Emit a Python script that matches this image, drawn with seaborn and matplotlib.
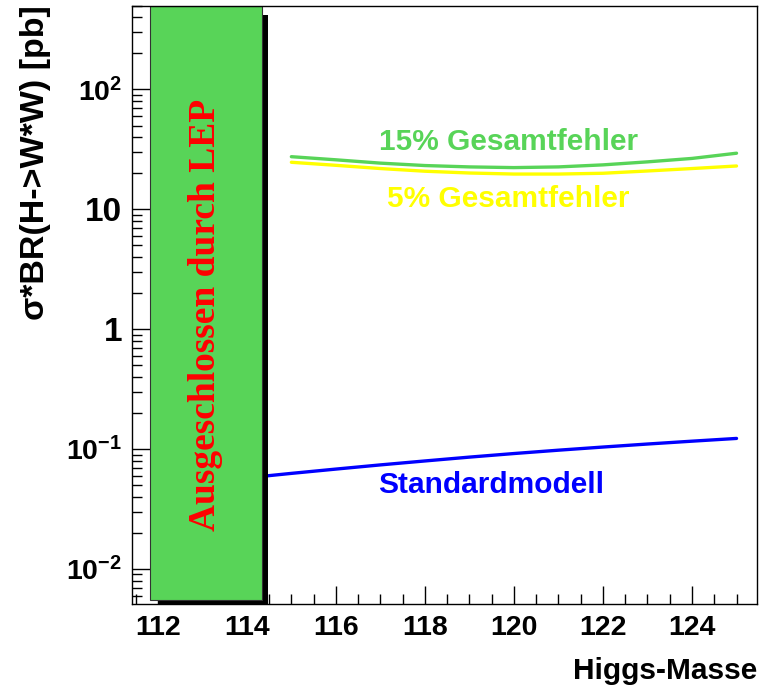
import matplotlib
matplotlib.use('Agg')
import matplotlib.pyplot as plt
import matplotlib.ticker as mticker
from matplotlib.patches import Rectangle
import seaborn as sns
import pandas as pd
import numpy as np

# Higgs mass points and cross sections
mass_sm = [114, 115, 116, 117, 118, 119, 120, 121, 122, 123, 124, 125]
sigma_sm = [0.0575, 0.0627, 0.0681, 0.0738, 0.0796, 0.0857, 0.0918,
            0.0979, 0.1040, 0.1102, 0.1164, 0.1227]

mass_err = [115, 116, 117, 118, 119, 120, 121, 122, 123, 124, 125]
sigma_15 = [27.5, 25.9, 24.3, 23.2, 22.6, 22.3, 22.6, 23.5, 24.9, 26.6, 29.4]
sigma_5 = [24.7, 23.3, 21.9, 20.8, 20.1, 19.7, 19.7, 20.0, 20.9, 21.9, 23.0]

# LEP excluded region (drawn as a shaded pave)
lep_box = [111.82, 114.33]

xticks = [112, 114, 116, 118, 120, 122, 124]
yticks = [0.01, 0.1, 1, 10, 100]
ytick_labels = [r'$\mathbf{10^{-2}}$', r'$\mathbf{10^{-1}}$', '1', '10', r'$\mathbf{10^{2}}$']

green = '#58d458'

sns.set_theme(style='ticks')
plt.rcParams['font.family'] = ['Liberation Sans', 'DejaVu Sans']
plt.rcParams['mathtext.fontset'] = 'custom'
plt.rcParams['mathtext.rm'] = 'Liberation Sans'
plt.rcParams['mathtext.bf'] = 'Liberation Sans:bold'
plt.rcParams['axes.linewidth'] = 1.0
plt.rcParams['text.color'] = 'black'
plt.rcParams['xtick.color'] = 'black'
plt.rcParams['ytick.color'] = 'black'
plt.rcParams['axes.edgecolor'] = 'black'

fig = plt.figure(figsize=(7.62, 6.96), dpi=100)
ax = fig.add_axes([132 / 762, 1 - 604 / 696, 625 / 762, 598.3 / 696])

df_sm = pd.DataFrame({'mass': mass_sm, 'sigma': sigma_sm})
df_err = pd.DataFrame({'mass': mass_err * 2,
                       'sigma': sigma_15 + sigma_5,
                       'curve': ['15%'] * len(mass_err) + ['5%'] * len(mass_err)})

sns.lineplot(data=df_sm, x='mass', y='sigma', color='#0000ff', lw=2.4, ax=ax, zorder=2)
sns.lineplot(data=df_err, x='mass', y='sigma', hue='curve',
             palette={'15%': green, '5%': '#ffff00'}, lw=2.4, ax=ax,
             legend=False, zorder=2)

ax.set_yscale('log')
ax.set_xlim(111.42, 125.46)
ax.set_ylim(0.0051, 500)

# shadow + pave for the LEP exclusion
ax.add_patch(Rectangle((112.02, 0.0045), 114.47 - 112.02, 418 - 0.0045,
                       facecolor='black', edgecolor='none', zorder=3))
ax.add_patch(Rectangle((lep_box[0], 0.0055), lep_box[1] - lep_box[0], 500 - 0.0055,
                       facecolor=green, edgecolor='#333333', lw=0.8, zorder=4))
ax.text(113.08, 1.32, 'Ausgeschlossen durch LEP', rotation=90, color='#ff0000',
        family=['Liberation Serif'], fontweight='bold', fontsize=27,
        ha='center', va='center', zorder=5)

ax.text(119.87, 36.7, '15% Gesamtfehler', color=green, fontsize=21.5,
        fontweight='bold', ha='center', va='center')
ax.text(119.87, 12.2, '5% Gesamtfehler', color='#ffff00', fontsize=21.5,
        fontweight='bold', ha='center', va='center')
ax.text(119.48, 0.0502, 'Standardmodell', color='#0000ff', fontsize=21.5,
        fontweight='bold', ha='center', va='center')

ax.xaxis.set_major_locator(mticker.FixedLocator(xticks))
ax.xaxis.set_minor_locator(mticker.MultipleLocator(0.5))
ax.yaxis.set_major_locator(mticker.FixedLocator(yticks))
ax.yaxis.set_minor_locator(mticker.LogLocator(base=10, subs=np.arange(2, 10)))
ax.yaxis.set_minor_formatter(mticker.NullFormatter())
ax.set_xticklabels([str(t) for t in xticks], fontsize=20.5, fontweight='bold')
ax.set_yticklabels(ytick_labels, fontsize=20.5, fontweight='bold')
# plain labels (1, 10) are drawn a bit larger in the original
for lab in ax.get_yticklabels():
    if not lab.get_text().startswith('$'):
        lab.set_fontsize(24)

ax.tick_params(which='major', direction='in', length=13, width=1, color='black',
               top=False, right=False, pad=8)
ax.tick_params(which='minor', direction='in', length=7, width=1, color='black',
               top=False, right=False)
ax.tick_params(axis='y', which='major', pad=7)
for s in ax.spines.values():
    s.set_visible(True)
    s.set_color('black')
    s.set_zorder(6)

ax.set_xlabel('')
ax.set_ylabel('')
fig.text(757 / 762, 1 - 671 / 696, 'Higgs-Masse', ha='right', va='center',
         fontsize=21.5, fontweight='bold')
fig.text(36 / 762, 1 - 5 / 696, 'σ*BR(H->W*W) [pb]', rotation=90, ha='center',
         va='top', fontsize=24.5, fontweight='bold')

fig.savefig('out.png', dpi=100)
